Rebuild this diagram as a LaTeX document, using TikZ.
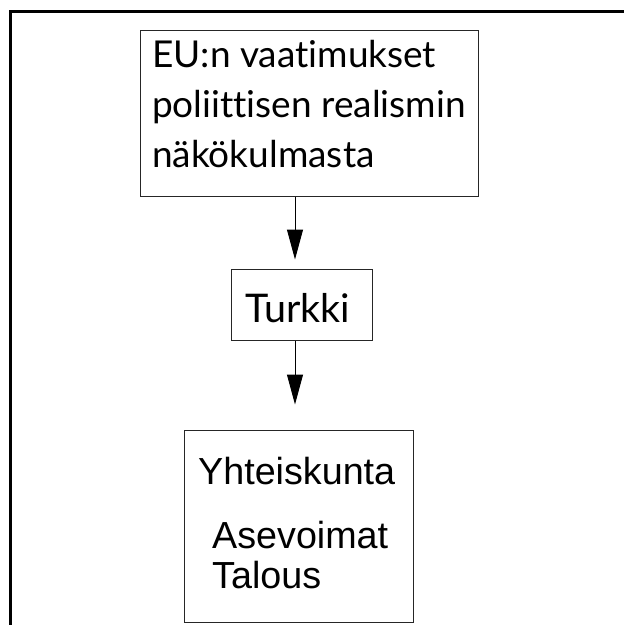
\documentclass[tikz,border=0pt]{standalone}
\usepackage{fontspec}
\usetikzlibrary{arrows.meta}
\newfontfamily\gillfont[Ligatures=NoCommon]{Lato}
\newfontfamily\arialfont{Liberation Sans}
\begin{document}
\begin{tikzpicture}[x=1pt,y=-1pt,
  boxstyle/.style={draw=black!85,line width=1pt,inner sep=0pt},
  gtext/.style={anchor=base west,inner sep=0pt,font=\gillfont\fontsize{37}{44}\selectfont},
  atext/.style={anchor=base west,inner sep=0pt,font=\arialfont\fontsize{37.7}{44}\selectfont},
  flow/.style={line width=1pt,-{Triangle[length=30pt,width=16pt]}}]
\useasboundingbox (0,0) rectangle (624,625);
\draw[line width=2.6pt] (10.5,625) -- (10.5,11.5) -- (624,11.5);
\node[boxstyle,minimum width=338pt,minimum height=166pt] (b1) at (309,113) {};
\node[boxstyle,minimum width=141pt,minimum height=71pt] (b2) at (301.5,304.5) {};
\node[boxstyle,minimum width=229pt,minimum height=192pt] (b3) at (298.5,526) {};
\node[gtext] (t1) at (152,67) {EU:n vaatimukset};
\node[gtext] (t2) at (152,117) {poliittisen realismin};
\node[gtext] (t3) at (152,167) {näkökulmasta};
\node[gtext,font=\gillfont\fontsize{39.5}{46}\selectfont] (t4) at (245,322) {Turkki};
\node[atext] (t5) at (198,484) {Yhteiskunta};
\node[atext] (t6) at (212,548) {Asevoimat};
\node[atext] (t7) at (212,588) {Talous};
\coordinate (ax) at (295,0);
\draw[flow,shorten >=9pt] (b1.south -| ax) -- (b2.north -| ax);
\draw[flow,shorten >=25pt] (b2.south -| ax) -- (b3.north -| ax);
\end{tikzpicture}
\end{document}
